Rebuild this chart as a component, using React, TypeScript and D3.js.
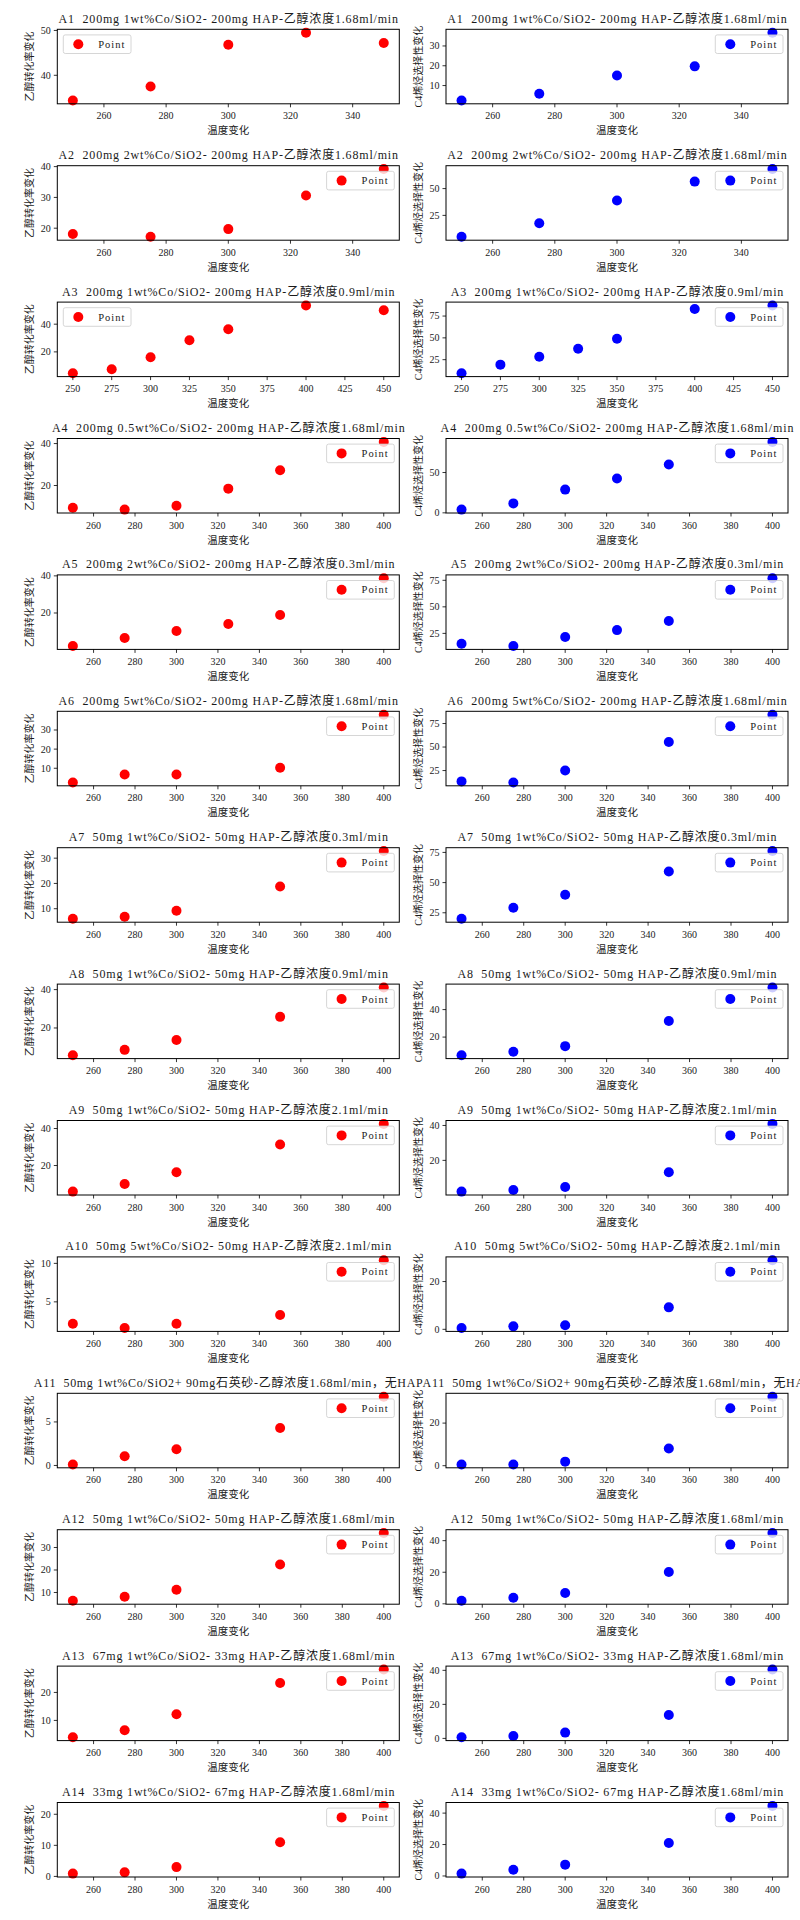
import React from 'react';
import * as d3 from 'd3';

// ---------- data ----------
const tempsA = [250, 275, 300, 325, 350];
const tempsB = [250, 275, 300, 325, 350, 400, 450];
const tempsC = [250, 275, 300, 325, 350, 400];
const tempsD = [250, 275, 300, 350, 400];

const xTicksA = [260, 280, 300, 320, 340];
const xTicksB = [250, 275, 300, 325, 350, 375, 400, 425, 450];
const xTicksC = [260, 280, 300, 320, 340, 360, 380, 400];

const titles = [
  'A1  200mg 1wt%Co/SiO2- 200mg HAP-乙醇浓度1.68ml/min',
  'A2  200mg 2wt%Co/SiO2- 200mg HAP-乙醇浓度1.68ml/min',
  'A3  200mg 1wt%Co/SiO2- 200mg HAP-乙醇浓度0.9ml/min',
  'A4  200mg 0.5wt%Co/SiO2- 200mg HAP-乙醇浓度1.68ml/min',
  'A5  200mg 2wt%Co/SiO2- 200mg HAP-乙醇浓度0.3ml/min',
  'A6  200mg 5wt%Co/SiO2- 200mg HAP-乙醇浓度1.68ml/min',
  'A7  50mg 1wt%Co/SiO2- 50mg HAP-乙醇浓度0.3ml/min',
  'A8  50mg 1wt%Co/SiO2- 50mg HAP-乙醇浓度0.9ml/min',
  'A9  50mg 1wt%Co/SiO2- 50mg HAP-乙醇浓度2.1ml/min',
  'A10  50mg 5wt%Co/SiO2- 50mg HAP-乙醇浓度2.1ml/min',
  'A11  50mg 1wt%Co/SiO2+ 90mg石英砂-乙醇浓度1.68ml/min，无HAP',
  'A12  50mg 1wt%Co/SiO2- 50mg HAP-乙醇浓度1.68ml/min',
  'A13  67mg 1wt%Co/SiO2- 33mg HAP-乙醇浓度1.68ml/min',
  'A14  33mg 1wt%Co/SiO2- 67mg HAP-乙醇浓度1.68ml/min',
];

// ethanol conversion (left column)
const convA1 = [34.4, 37.5, 46.8, 49.5, 47.2];
const convA2 = [18.1, 17.2, 19.7, 30.6, 39.2];
const convA3 = [4.6, 7.5, 16.1, 28.4, 36.4, 53.5, 50.1];
const convA4 = [9.4, 8.5, 10.3, 18.5, 27.3, 40.8];
const convA5 = [2.2, 6.5, 10.3, 14.1, 18.9, 38.7];
const convA6 = [2.6, 6.7, 6.7, 10.3, 38.0];
const convA7 = [6.0, 6.8, 9.2, 18.8, 32.8];
const convA8 = [5.8, 8.6, 13.7, 25.8, 41.1];
const convA9 = [5.9, 10.0, 16.4, 31.4, 42.5];
const convA10 = [2.16, 1.6, 2.16, 3.3, 10.4];
const convA11 = [0.12, 1.05, 1.86, 4.3, 7.9];
const convA12 = [6.3, 8.1, 11.2, 22.4, 36.4];
const convA13 = [4.0, 6.5, 12.2, 23.4, 28.2];
const convA14 = [0.9, 1.3, 3.0, 11.0, 22.7];

// C4 olefin selectivity (right column)
const selA1 = [2.5, 5.9, 15.1, 19.7, 36.7];
const selA2 = [5.0, 17.6, 38.9, 56.5, 68.2];
const selA3 = [9.5, 19.3, 28.4, 37.5, 48.9, 83.0, 87.1];
const selA4 = [4.0, 11.7, 28.8, 42.5, 60.0, 88.0];
const selA5 = [15.3, 13.1, 21.6, 28.1, 36.6, 76.9];
const selA6 = [13.5, 12.4, 25.0, 55.4, 84.4];
const selA7 = [20.0, 29.2, 40.0, 59.2, 76.1];
const selA8 = [6.8, 9.3, 13.4, 31.7, 56.1];
const selA9 = [2.1, 3.0, 4.7, 13.2, 40.9];
const selA10 = [0.55, 1.25, 1.7, 9.2, 28.9];
const selA11 = [0.6, 0.6, 1.9, 8.1, 32.4];
const selA12 = [1.9, 3.8, 6.9, 20.2, 44.8];
const selA13 = [0.7, 1.4, 3.4, 13.8, 40.5];
const selA14 = [1.5, 4.0, 7.2, 21.0, 44.6];

const yTicksConv = [
  [40, 50], [20, 30, 40], [20, 40], [20, 40], [20, 40], [10, 20, 30], [10, 20, 30],
  [20, 40], [20, 40], [5, 10], [0, 5], [10, 20, 30], [10, 20], [0, 10, 20],
];
const yTicksSel = [
  [10, 20, 30], [25, 50], [25, 50, 75], [0, 50], [25, 50, 75], [25, 50, 75], [25, 50, 75],
  [20, 40], [20, 40], [0, 20], [0, 20], [0, 20, 40], [0, 20, 40], [0, 20, 40],
];

const temps = [tempsA, tempsA, tempsB, tempsC, tempsC, tempsD, tempsD, tempsD, tempsD, tempsD, tempsD, tempsD, tempsD, tempsD];
const xTicks = [xTicksA, xTicksA, xTicksB, xTicksC, xTicksC, xTicksC, xTicksC, xTicksC, xTicksC, xTicksC, xTicksC, xTicksC, xTicksC, xTicksC];
const conv = [convA1, convA2, convA3, convA4, convA5, convA6, convA7, convA8, convA9, convA10, convA11, convA12, convA13, convA14];
const sel = [selA1, selA2, selA3, selA4, selA5, selA6, selA7, selA8, selA9, selA10, selA11, selA12, selA13, selA14];
const legendUpperLeftConv = [true, false, true, false, false, false, false, false, false, false, false, false, false, false];

const xLabel = '温度变化';
const yLabelConv = '乙醇转化率变化';
const yLabelSel = 'C4烯烃选择性变化';
const legendLabel = 'Point';

// ---------- layout ----------
const W = 800;
const H = 1920;
const COL_X = [57.3, 446];
const AX_W = 342;
const ROW_TOP0 = 29.3;
const ROW_PITCH = 136.4;
const AX_H = 74.5;
const FONT = "'Liberation Serif', 'DejaVu Serif', 'Noto Sans CJK SC', serif";
const TEXT = '#1a1a1a';

function padded(vals: number[]): [number, number] {
  const [lo, hi] = d3.extent(vals) as [number, number];
  const m = (hi - lo) * 0.05;
  return [lo - m, hi + m];
}

function titleWidth(s: string) {
  let w = 0;
  for (const c of Array.from(s)) w += c.charCodeAt(0) > 0x2e80 ? 12.6 : 6.72;
  return w;
}

type PanelProps = {
  x0: number;
  y0: number;
  title: string;
  xs: number[];
  ys: number[];
  xt: number[];
  yt: number[];
  color: string;
  ylabel: string;
  upperLeft: boolean;
};

function Panel({ x0, y0, title, xs, ys, xt, yt, color, ylabel, upperLeft }: PanelProps) {
  const xScale = d3.scaleLinear().domain(padded(xs)).range([x0, x0 + AX_W]);
  const yScale = d3.scaleLinear().domain(padded(ys)).range([y0 + AX_H, y0]);
  const [ylo, yhi] = yScale.domain();
  const yTicksIn = yt.filter((t) => t >= ylo && t <= yhi);
  const [xlo, xhi] = xScale.domain();
  const xTicksIn = xt.filter((t) => t >= xlo && t <= xhi);
  const bottom = y0 + AX_H;
  const lgW = 67.7;
  const lgH = 18.6;
  const lgX = upperLeft ? x0 + 6 : x0 + AX_W - 5 - lgW;
  const lgY = y0 + 5.6;
  const tw = titleWidth(title);
  return (
    <g>
      {xs.map((xv, i) => (
        <circle key={i} cx={xScale(xv)} cy={yScale(ys[i])} r={5} fill={color} />
      ))}
      <rect x={x0} y={y0} width={AX_W} height={AX_H} fill="none" stroke="#000" strokeWidth={1} />
      {xTicksIn.map((t) => (
        <g key={'x' + t}>
          <line x1={xScale(t)} x2={xScale(t)} y1={bottom} y2={bottom + 3.5} stroke="#000" strokeWidth={0.8} />
          <text x={xScale(t)} y={bottom + 15.5} textAnchor="middle" fontSize={10} fontFamily={FONT} fill={TEXT}>
            {t}
          </text>
        </g>
      ))}
      {yTicksIn.map((t) => (
        <g key={'y' + t}>
          <line x1={x0 - 3.5} x2={x0} y1={yScale(t)} y2={yScale(t)} stroke="#000" strokeWidth={0.8} />
          <text x={x0 - 6.5} y={yScale(t)} dy="0.34em" textAnchor="end" fontSize={10} fontFamily={FONT} fill={TEXT}>
            {t}
          </text>
        </g>
      ))}
      <text x={x0 + AX_W / 2} y={bottom + 30.5} textAnchor="middle" fontSize={10.5} fontFamily={FONT} fill={TEXT}>
        {xLabel}
      </text>
      <text
        transform={`translate(${x0 - 28},${y0 + AX_H / 2}) rotate(-90)`}
        dy="0.35em"
        textAnchor="middle"
        fontSize={10}
        fontFamily={FONT}
        fill={TEXT}
      >
        {ylabel}
      </text>
      <text
        x={x0 + AX_W / 2}
        y={y0 - 6.5}
        textAnchor="middle"
        fontSize={12}
        fontFamily={FONT}
        fill={TEXT}
        textLength={tw}
        lengthAdjust="spacing"
        style={{ whiteSpace: 'pre' }}
      >
        {title}
      </text>
      <rect x={lgX} y={lgY} width={lgW} height={lgH} rx={2} fill="#fff" fillOpacity={0.8} stroke="#cccccc" strokeWidth={0.8} />
      <circle cx={lgX + 15} cy={lgY + lgH / 2} r={5} fill={color} />
      <text x={lgX + 35} y={lgY + lgH / 2} dy="0.34em" fontSize={10.5} fontFamily={FONT} fill={TEXT} textLength={26} lengthAdjust="spacing">
        {legendLabel}
      </text>
    </g>
  );
}

export default function App() {
  const panels = [];
  for (let r = 0; r < titles.length; r++) {
    const y0 = ROW_TOP0 + r * ROW_PITCH;
    panels.push(
      <Panel
        key={'L' + r}
        x0={COL_X[0]}
        y0={y0}
        title={titles[r]}
        xs={temps[r]}
        ys={conv[r]}
        xt={xTicks[r]}
        yt={yTicksConv[r]}
        color="#ff0000"
        ylabel={yLabelConv}
        upperLeft={legendUpperLeftConv[r]}
      />
    );
    panels.push(
      <Panel
        key={'R' + r}
        x0={COL_X[1]}
        y0={y0}
        title={titles[r]}
        xs={temps[r]}
        ys={sel[r]}
        xt={xTicks[r]}
        yt={yTicksSel[r]}
        color="#0000ff"
        ylabel={yLabelSel}
        upperLeft={false}
      />
    );
  }
  return (
    <svg
      width={W}
      height={H}
      viewBox={`0 0 ${W} ${H}`}
      style={{ position: 'absolute', left: 0, top: 0, background: '#fff' }}
    >
      <rect x={0} y={0} width={W} height={H} fill="#fff" />
      {panels}
    </svg>
  );
}
